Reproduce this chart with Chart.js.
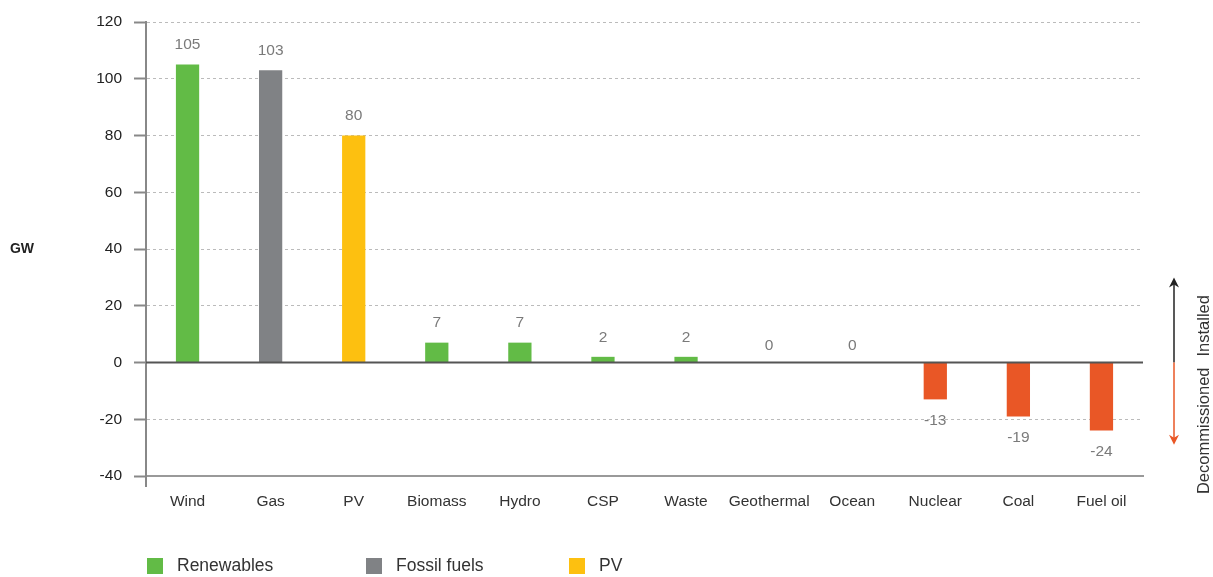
<!DOCTYPE html>
<html><head><meta charset="utf-8">
<script src="https://cdn.jsdelivr.net/npm/chart.js@4"></script>
<style>html,body{margin:0;padding:0;background:#fff;}#wrap{width:1213px;height:577px;position:relative;}</style>
</head><body><div id="wrap"><canvas id="c" width="1213" height="577"></canvas></div>
<script>
const categories = ['Wind','Gas','PV','Biomass','Hydro','CSP','Waste','Geothermal','Ocean','Nuclear','Coal','Fuel oil'];
const values = [105,103,80,7,7,2,2,0,0,-13,-19,-24];
const groups = ['Renewables','Fossil fuels','PV','Renewables','Renewables','Renewables','Renewables','Renewables','Renewables','Decommissioned','Decommissioned','Decommissioned'];
const legendNames = ['Renewables','Fossil fuels','PV'];
const yTicks = [-40,-20,0,20,40,60,80,100,120];

const colors = {'Renewables':'#62bb46','Fossil fuels':'#808285','PV':'#fdc010','Decommissioned':'#e95726'};
const FONT = '"Liberation Sans", Arial, Helvetica, sans-serif';
const legendX = [147, 366, 569];

const extras = {
  id:'extras',
  afterDatasetsDraw(chart){
    const ctx = chart.ctx, ca = chart.chartArea, y = chart.scales.y;
    const meta = chart.getDatasetMeta(0);
    const y0 = y.getPixelForValue(0);
    ctx.save();
    // zero line
    ctx.strokeStyle = '#555'; ctx.lineWidth = 2;
    ctx.beginPath(); ctx.moveTo(ca.left, y0); ctx.lineTo(ca.right, y0); ctx.stroke();
    // value labels
    ctx.font = '15.5px ' + FONT; ctx.fillStyle = '#7a7a7a'; ctx.textAlign = 'center'; ctx.textBaseline = 'middle';
    meta.data.forEach((bar, i) => {
      const v = values[i];
      const py = v < 0 ? bar.y + 21 : (v === 0 ? bar.y - 17 : bar.y - 19.5);
      ctx.fillText(String(v), bar.x, py);
    });
    // GW label
    ctx.font = 'bold 14px ' + FONT; ctx.fillStyle = '#222';
    ctx.fillText('GW', 22, (ca.top + ca.bottom) / 2);
    // arrows
    const ax = 1174;
    const yTop = y.getPixelForValue(30), yBot = y.getPixelForValue(-29);
    ctx.lineWidth = 1.5;
    ctx.strokeStyle = '#222'; ctx.fillStyle = '#222';
    ctx.beginPath(); ctx.moveTo(ax, y0); ctx.lineTo(ax, yTop + 6); ctx.stroke();
    ctx.beginPath(); ctx.moveTo(ax, yTop); ctx.lineTo(ax - 5, yTop + 10); ctx.lineTo(ax, yTop + 7); ctx.lineTo(ax + 5, yTop + 10); ctx.closePath(); ctx.fill();
    ctx.strokeStyle = '#e95726'; ctx.fillStyle = '#e95726';
    ctx.beginPath(); ctx.moveTo(ax, y0); ctx.lineTo(ax, yBot - 6); ctx.stroke();
    ctx.beginPath(); ctx.moveTo(ax, yBot); ctx.lineTo(ax - 5, yBot - 10); ctx.lineTo(ax, yBot - 7); ctx.lineTo(ax + 5, yBot - 10); ctx.closePath(); ctx.fill();
    // rotated texts
    ctx.save();
    ctx.translate(1204, y0); ctx.rotate(-Math.PI / 2);
    ctx.font = '16.5px ' + FONT; ctx.fillStyle = '#333'; ctx.textBaseline = 'middle';
    ctx.textAlign = 'left'; ctx.fillText('Installed', 6, 0);
    ctx.textAlign = 'right'; ctx.fillText('Decommissioned', -5, 0);
    ctx.restore();
    // legend
    ctx.font = '17.5px ' + FONT; ctx.textAlign = 'left'; ctx.textBaseline = 'middle';
    legendNames.forEach((n, i) => {
      ctx.fillStyle = colors[n];
      ctx.fillRect(legendX[i], 558, 16, 16);
      ctx.fillStyle = '#333';
      ctx.fillText(n, legendX[i] + 30, 566);
    });
    ctx.restore();
  }
};

new Chart(document.getElementById('c'), {
  type: 'bar',
  data: {
    labels: categories,
    datasets: [{
      label: 'GW',
      data: values,
      backgroundColor: groups.map(g => colors[g]),
      categoryPercentage: 1,
      barPercentage: 0.28
    }]
  },
  options: {
    responsive: false,
    animation: false,
    devicePixelRatio: 1,
    layout: { padding: { left: 0, right: 70, top: 22, bottom: 61 } },
    plugins: { legend: { display: false }, tooltip: { enabled: false } },
    scales: {
      x: {
        afterFit(s){ s.height = 40; },
        grid: { drawOnChartArea: false, tickLength: 11, lineWidth: 2,
                color: (c) => c.index === 0 ? '#888' : 'rgba(0,0,0,0)' },
        border: { display: true, color: '#999', width: 2 },
        ticks: { color: '#333', font: { family: FONT, size: 15.5 }, padding: 5,
                 maxRotation: 0, minRotation: 0, autoSkip: false }
      },
      y: {
        min: -40, max: 120,
        afterFit(s){ s.width = 146; },
        afterBuildTicks(s){ s.ticks = yTicks.map(v => ({ value: v })); },
        grid: { color: '#bbb', lineWidth: 1, tickLength: 12, tickColor: '#888', tickWidth: 2 },
        border: { display: true, color: '#888', width: 2, dash: [3, 3] },
        ticks: { color: '#222', font: { family: FONT, size: 15.5 }, padding: 12 }
      }
    }
  },
  plugins: [extras]
});
</script></body></html>
